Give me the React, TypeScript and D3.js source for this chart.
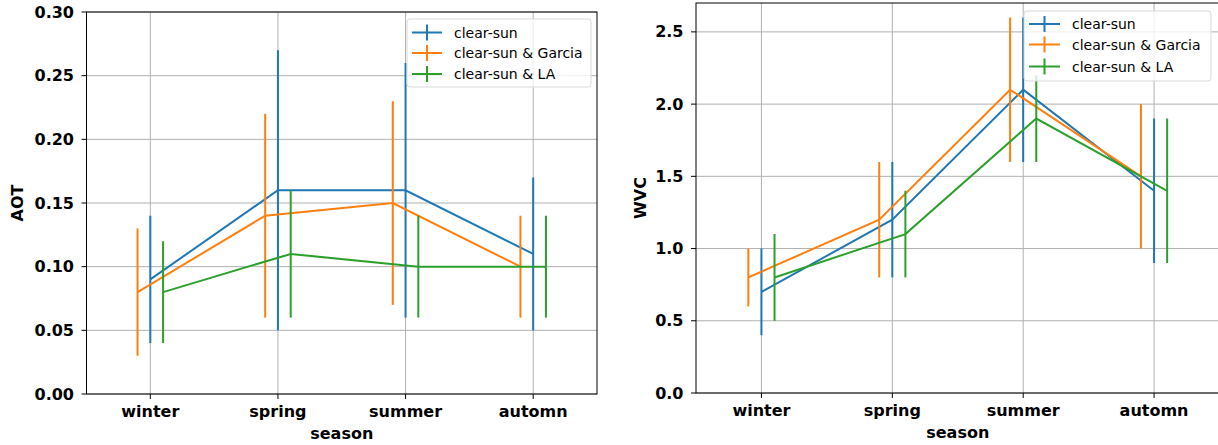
import React from "react";
import * as d3 from "d3";

const seasons = ["winter", "spring", "summer", "automn"];
const seriesNames = ["clear-sun", "clear-sun & Garcia", "clear-sun & LA"];
const seriesColors = ["#1f77b4", "#ff7f0e", "#2ca02c"];
const seriesOffsets = [0, -0.1, 0.1];

const aotMean = [
  [0.09, 0.16, 0.16, 0.11],
  [0.08, 0.14, 0.15, 0.10],
  [0.08, 0.11, 0.10, 0.10],
];
const aotErr = [
  [0.05, 0.11, 0.10, 0.06],
  [0.05, 0.08, 0.08, 0.04],
  [0.04, 0.05, 0.04, 0.04],
];
const aotTicks = [0, 0.05, 0.1, 0.15, 0.2, 0.25, 0.3];

const wvcMean = [
  [0.7, 1.2, 2.1, 1.4],
  [0.8, 1.2, 2.1, 1.5],
  [0.8, 1.1, 1.9, 1.4],
];
const wvcErr = [
  [0.3, 0.4, 0.5, 0.5],
  [0.2, 0.4, 0.5, 0.5],
  [0.3, 0.3, 0.3, 0.5],
];
const wvcTicks = [0, 0.5, 1.0, 1.5, 2.0, 2.5];

type PanelProps = {
  left: number;
  right: number;
  top: number;
  bottom: number;
  yMax: number;
  yTicks: number[];
  fmt: (v: number) => string;
  means: number[][];
  errs: number[][];
  yLabel: string;
  yLabelX: number;
  legend: { x0: number; y0: number; x1: number; y1: number; hx0: number; hx1: number; tx: number; rows: number[] };
  clipId: string;
};

function Panel(p: PanelProps) {
  const x = d3.scaleLinear().domain([-0.5, 3.5]).range([p.left, p.right]);
  const y = d3.scaleLinear().domain([0, p.yMax]).range([p.bottom, p.top]);
  const line = d3
    .line<[number, number]>()
    .x((d) => d[0])
    .y((d) => d[1]);
  const font = "'DejaVu Sans', sans-serif";
  const hc = (p.legend.hx0 + p.legend.hx1) / 2;
  return (
    <g>
      <defs>
        <clipPath id={p.clipId}>
          <rect x={p.left} y={p.top} width={p.right - p.left} height={p.bottom - p.top} />
        </clipPath>
      </defs>
      {seasons.map((s, i) => (
        <line key={"gx" + s} x1={x(i)} x2={x(i)} y1={p.top} y2={p.bottom} stroke="#b0b0b0" strokeWidth={1} />
      ))}
      {p.yTicks.map((t) => (
        <line key={"gy" + t} x1={p.left} x2={p.right} y1={y(t)} y2={y(t)} stroke="#b0b0b0" strokeWidth={1} />
      ))}
      <g clipPath={`url(#${p.clipId})`}>
        {p.means.map((m, si) => {
          const pts: [number, number][] = m.map((v, i) => [x(i + seriesOffsets[si]), y(v)]);
          return (
            <g key={"s" + si}>
              <path d={line(pts) || ""} fill="none" stroke={seriesColors[si]} strokeWidth={2} />
              {m.map((v, i) => (
                <line
                  key={"e" + i}
                  x1={x(i + seriesOffsets[si])}
                  x2={x(i + seriesOffsets[si])}
                  y1={y(v - p.errs[si][i])}
                  y2={y(v + p.errs[si][i])}
                  stroke={seriesColors[si]}
                  strokeWidth={2}
                />
              ))}
            </g>
          );
        })}
      </g>
      <rect x={p.left} y={p.top} width={p.right - p.left} height={p.bottom - p.top} fill="none" stroke="#000" strokeWidth={1} />
      {seasons.map((s, i) => (
        <g key={"xt" + s}>
          <line x1={x(i)} x2={x(i)} y1={p.bottom} y2={p.bottom + 5} stroke="#000" strokeWidth={1} />
          <text x={x(i)} y={p.bottom + 17} textAnchor="middle" dominantBaseline="central" fontFamily={font} fontWeight="bold" fontSize={16}>
            {s}
          </text>
        </g>
      ))}
      {p.yTicks.map((t) => (
        <g key={"yt" + t}>
          <line x1={p.left - 5} x2={p.left} y1={y(t)} y2={y(t)} stroke="#000" strokeWidth={1} />
          <text x={p.left - 12.5} y={y(t)} textAnchor="end" dominantBaseline="central" fontFamily={font} fontWeight="bold" fontSize={16}>
            {p.fmt(t)}
          </text>
        </g>
      ))}
      <text
        x={(p.left + p.right) / 2}
        y={p.bottom + 39}
        textAnchor="middle"
        dominantBaseline="central"
        fontFamily={font}
        fontWeight="bold"
        fontSize={16}
      >
        season
      </text>
      <text
        transform={`translate(${p.yLabelX},${(p.top + p.bottom) / 2}) rotate(-90)`}
        textAnchor="middle"
        dominantBaseline="central"
        fontFamily={font}
        fontWeight="bold"
        fontSize={16}
      >
        {p.yLabel}
      </text>
      <rect
        x={p.legend.x0}
        y={p.legend.y0}
        width={p.legend.x1 - p.legend.x0}
        height={p.legend.y1 - p.legend.y0}
        rx={3}
        fill="#fff"
        fillOpacity={0.8}
        stroke="#d9d9d9"
        strokeWidth={1}
      />
      {seriesNames.map((n, si) => {
        const ry = p.legend.rows[si];
        return (
          <g key={"lg" + si}>
            <line x1={p.legend.hx0} x2={p.legend.hx1} y1={ry} y2={ry} stroke={seriesColors[si]} strokeWidth={2} />
            <line x1={hc} x2={hc} y1={ry - 8} y2={ry + 8} stroke={seriesColors[si]} strokeWidth={2} />
            <text x={p.legend.tx} y={ry} dominantBaseline="central" fontFamily={font} fontSize={14} fill="#000">
              {n}
            </text>
          </g>
        );
      })}
    </g>
  );
}

export default function App() {
  return (
    <svg width={1218} height={445} style={{ position: "absolute", left: 0, top: 0, background: "#fff" }}>
      <rect x={0} y={0} width={1218} height={445} fill="#fff" />
      <Panel
        left={86.5}
        right={597}
        top={12}
        bottom={394}
        yMax={0.3}
        yTicks={aotTicks}
        fmt={d3.format(".2f")}
        means={aotMean}
        errs={aotErr}
        yLabel="AOT"
        yLabelX={17.5}
        clipId="c1"
        legend={{ x0: 407, y0: 19, x1: 591, y1: 87, hx0: 412, hx1: 442, tx: 454, rows: [32.5, 53, 74] }}
      />
      <Panel
        left={696}
        right={1219.5}
        top={3}
        bottom={393}
        yMax={2.7}
        yTicks={wvcTicks}
        fmt={d3.format(".1f")}
        means={wvcMean}
        errs={wvcErr}
        yLabel="WVC"
        yLabelX={640}
        clipId="c2"
        legend={{ x0: 1024, y0: 11, x1: 1211, y1: 81, hx0: 1029, hx1: 1060, tx: 1072, rows: [24, 44.5, 66.5] }}
      />
    </svg>
  );
}
